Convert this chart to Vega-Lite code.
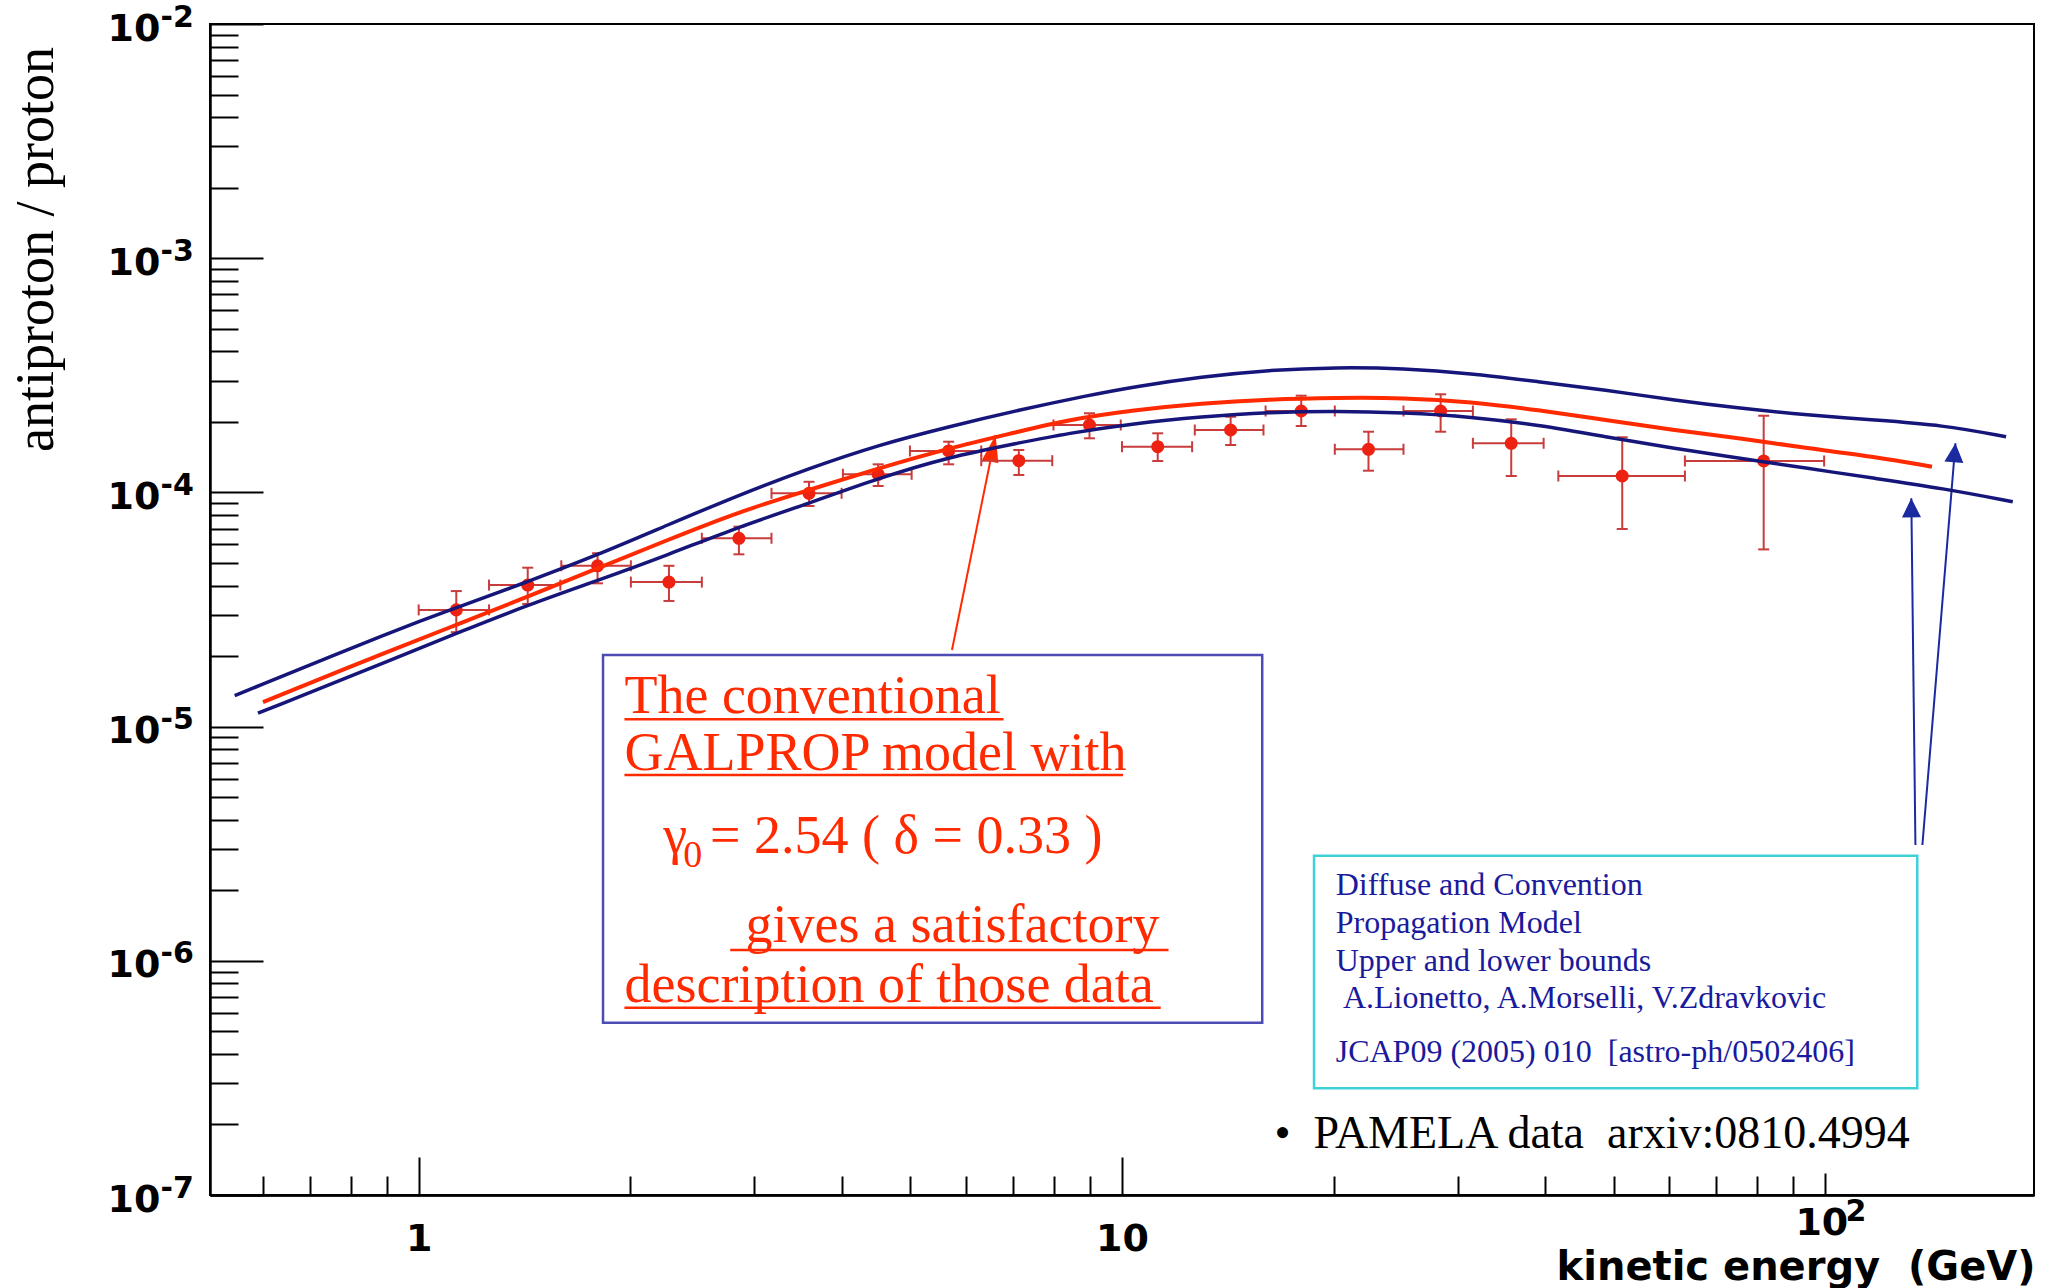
{
  "$schema": "https://vega.github.io/schema/vega-lite/v6.json",
  "autosize": {"type": "none"},
  "padding": {"left": 210, "top": 24, "right": 22, "bottom": 93},
  "width": 1824,
  "height": 1171,
  "background": "#ffffff",
  "config": {"view": {"stroke": "#000000", "strokeWidth": 2}},
  "resolve": {"axis": {"x": "independent", "y": "independent"}},
  "datasets": {
    "pamela": [
      {"E": 1.131, "Elo": 1.0, "Ehi": 1.259, "R": 3.15e-5, "Rlo": 2.53e-5, "Rhi": 3.79e-5},
      {"E": 1.429, "Elo": 1.259, "Ehi": 1.59, "R": 4.02e-5, "Rlo": 3.34e-5, "Rhi": 4.77e-5},
      {"E": 1.796, "Elo": 1.595, "Ehi": 2.003, "R": 4.86e-5, "Rlo": 4.09e-5, "Rhi": 5.5e-5},
      {"E": 2.269, "Elo": 2.003, "Ehi": 2.527, "R": 4.14e-5, "Rlo": 3.44e-5, "Rhi": 4.86e-5},
      {"E": 2.853, "Elo": 2.527, "Ehi": 3.174, "R": 6.37e-5, "Rlo": 5.44e-5, "Rhi": 7.14e-5},
      {"E": 3.589, "Elo": 3.174, "Ehi": 3.993, "R": 9.91e-5, "Rlo": 8.75e-5, "Rhi": 1.11e-4},
      {"E": 4.501, "Elo": 4.01, "Ehi": 5.022, "R": 1.195e-4, "Rlo": 1.065e-4, "Rhi": 1.318e-4},
      {"E": 5.669, "Elo": 4.994, "Ehi": 6.308, "R": 1.503e-4, "Rlo": 1.318e-4, "Rhi": 1.646e-4},
      {"E": 7.133, "Elo": 6.308, "Ehi": 7.958, "R": 1.366e-4, "Rlo": 1.187e-4, "Rhi": 1.517e-4},
      {"E": 8.99, "Elo": 7.99, "Ehi": 9.958, "R": 1.94e-4, "Rlo": 1.702e-4, "Rhi": 2.177e-4},
      {"E": 11.24, "Elo": 10.0, "Ehi": 12.58, "R": 1.567e-4, "Rlo": 1.362e-4, "Rhi": 1.788e-4},
      {"E": 14.27, "Elo": 12.69, "Ehi": 15.89, "R": 1.847e-4, "Rlo": 1.593e-4, "Rhi": 2.104e-4},
      {"E": 17.98, "Elo": 16.0, "Ehi": 20.07, "R": 2.226e-4, "Rlo": 1.921e-4, "Rhi": 2.588e-4},
      {"E": 22.41, "Elo": 20.07, "Ehi": 25.13, "R": 1.528e-4, "Rlo": 1.238e-4, "Rhi": 1.816e-4},
      {"E": 28.38, "Elo": 25.13, "Ehi": 31.54, "R": 2.226e-4, "Rlo": 1.816e-4, "Rhi": 2.624e-4},
      {"E": 35.76, "Elo": 31.54, "Ehi": 39.76, "R": 1.621e-4, "Rlo": 1.175e-4, "Rhi": 2.051e-4},
      {"E": 51.43, "Elo": 41.72, "Ehi": 63.14, "R": 1.175e-4, "Rlo": 6.98e-5, "Rhi": 1.719e-4},
      {"E": 81.72, "Elo": 63.14, "Ehi": 99.6, "R": 1.362e-4, "Rlo": 5.71e-5, "Rhi": 2.125e-4}
    ],
    "curves": [
      {"model": "upper", "E": 0.5475, "R": 1.356e-5},
      {"model": "upper", "E": 0.9397, "R": 2.629e-5},
      {"model": "upper", "E": 1.1313, "R": 3.219e-5},
      {"model": "upper", "E": 1.429, "R": 4.155e-5},
      {"model": "upper", "E": 1.7958, "R": 5.403e-5},
      {"model": "upper", "E": 2.2585, "R": 7.257e-5},
      {"model": "upper", "E": 2.8531, "R": 9.747e-5},
      {"model": "upper", "E": 3.5892, "R": 1.267e-4},
      {"model": "upper", "E": 4.5004, "R": 1.594e-4},
      {"model": "upper", "E": 5.669, "R": 1.908e-4},
      {"model": "upper", "E": 7.1319, "R": 2.247e-4},
      {"model": "upper", "E": 9.0075, "R": 2.605e-4},
      {"model": "upper", "E": 10.407, "R": 2.827e-4},
      {"model": "upper", "E": 12.972, "R": 3.119e-4},
      {"model": "upper", "E": 16.175, "R": 3.331e-4},
      {"model": "upper", "E": 20.159, "R": 3.421e-4},
      {"model": "upper", "E": 25.126, "R": 3.387e-4},
      {"model": "upper", "E": 31.333, "R": 3.224e-4},
      {"model": "upper", "E": 39.054, "R": 2.97e-4},
      {"model": "upper", "E": 48.689, "R": 2.737e-4},
      {"model": "upper", "E": 60.688, "R": 2.48e-4},
      {"model": "upper", "E": 75.652, "R": 2.286e-4},
      {"model": "upper", "E": 94.32, "R": 2.14e-4},
      {"model": "upper", "E": 117.56, "R": 2.037e-4},
      {"model": "upper", "E": 146.6, "R": 1.94e-4},
      {"model": "upper", "E": 180.7, "R": 1.729e-4},
      {"model": "lower", "E": 0.5909, "R": 1.141e-5},
      {"model": "lower", "E": 0.9397, "R": 1.989e-5},
      {"model": "lower", "E": 1.1313, "R": 2.503e-5},
      {"model": "lower", "E": 1.429, "R": 3.305e-5},
      {"model": "lower", "E": 1.7958, "R": 4.205e-5},
      {"model": "lower", "E": 2.2585, "R": 5.403e-5},
      {"model": "lower", "E": 2.8531, "R": 7.137e-5},
      {"model": "lower", "E": 3.5892, "R": 8.985e-5},
      {"model": "lower", "E": 4.5004, "R": 1.148e-4},
      {"model": "lower", "E": 5.669, "R": 1.416e-4},
      {"model": "lower", "E": 7.1319, "R": 1.625e-4},
      {"model": "lower", "E": 8.3484, "R": 1.785e-4},
      {"model": "lower", "E": 10.407, "R": 1.972e-4},
      {"model": "lower", "E": 12.972, "R": 2.104e-4},
      {"model": "lower", "E": 16.175, "R": 2.198e-4},
      {"model": "lower", "E": 20.159, "R": 2.226e-4},
      {"model": "lower", "E": 25.126, "R": 2.189e-4},
      {"model": "lower", "E": 31.333, "R": 2.104e-4},
      {"model": "lower", "E": 39.054, "R": 1.94e-4},
      {"model": "lower", "E": 48.689, "R": 1.729e-4},
      {"model": "lower", "E": 60.688, "R": 1.543e-4},
      {"model": "lower", "E": 75.652, "R": 1.398e-4},
      {"model": "lower", "E": 94.32, "R": 1.267e-4},
      {"model": "lower", "E": 117.56, "R": 1.148e-4},
      {"model": "lower", "E": 146.6, "R": 1.041e-4},
      {"model": "lower", "E": 184.7, "R": 9.128e-5},
      {"model": "model", "E": 0.6006, "R": 1.271e-5},
      {"model": "model", "E": 0.9397, "R": 2.194e-5},
      {"model": "model", "E": 1.1313, "R": 2.715e-5},
      {"model": "model", "E": 1.429, "R": 3.587e-5},
      {"model": "model", "E": 1.7958, "R": 4.742e-5},
      {"model": "model", "E": 2.2585, "R": 6.262e-5},
      {"model": "model", "E": 2.8531, "R": 8.271e-5},
      {"model": "model", "E": 3.5892, "R": 1.024e-4},
      {"model": "model", "E": 4.5004, "R": 1.267e-4},
      {"model": "model", "E": 5.669, "R": 1.543e-4},
      {"model": "model", "E": 7.1319, "R": 1.816e-4},
      {"model": "model", "E": 8.3484, "R": 2.037e-4},
      {"model": "model", "E": 10.407, "R": 2.247e-4},
      {"model": "model", "E": 12.972, "R": 2.4e-4},
      {"model": "model", "E": 16.175, "R": 2.497e-4},
      {"model": "model", "E": 20.159, "R": 2.537e-4},
      {"model": "model", "E": 25.126, "R": 2.537e-4},
      {"model": "model", "E": 31.333, "R": 2.439e-4},
      {"model": "model", "E": 39.054, "R": 2.247e-4},
      {"model": "model", "E": 48.689, "R": 2.037e-4},
      {"model": "model", "E": 60.688, "R": 1.847e-4},
      {"model": "model", "E": 75.652, "R": 1.702e-4},
      {"model": "model", "E": 94.32, "R": 1.543e-4},
      {"model": "model", "E": 117.56, "R": 1.421e-4},
      {"model": "model", "E": 141.8, "R": 1.288e-4}
    ],
    "boxes": [
      {"box": "red", "E": 1.8285, "E2": 15.825, "R": 2.021e-5, "R2": 5.441e-7},
      {"box": "cyan", "E": 18.75, "E2": 135.1, "R": 2.812e-6, "R2": 2.855e-7}
    ],
    "underlines": [
      {"E": 1.9613, "E2": 6.785, "R": 1.075e-5},
      {"E": 1.9613, "E2": 10.033, "R": 6.214e-6},
      {"E": 2.773, "E2": 11.644, "R": 1.112e-6},
      {"E": 1.9613, "E2": 11.35, "R": 6.305e-7}
    ],
    "arrows": [
      {"arrow": "red", "E": 5.731, "R": 2.124e-5, "E2": 6.611, "R2": 1.758e-4},
      {"arrow": "blueL", "E": 134.3, "R": 3.123e-6, "E2": 132.5, "R2": 9.436e-5},
      {"arrow": "blueR", "E": 137.4, "R": 3.123e-6, "E2": 153.1, "R2": 1.621e-4}
    ],
    "notes": [
      {"note": "red", "E": 1.9613, "R": 1.147e-5, "text": "The conventional"},
      {"note": "red", "E": 1.9613, "R": 6.525e-6, "text": "GALPROP model with"},
      {"note": "red", "E": 2.2277, "R": 2.877e-6, "text": "γ"},
      {"note": "red", "E": 2.5962, "R": 2.877e-6, "text": "= 2.54 ( δ = 0.33 )"},
      {"note": "red", "E": 2.9162, "R": 1.206e-6, "text": "gives a satisfactory"},
      {"note": "red", "E": 1.9613, "R": 6.688e-7, "text": "description of those data"},
      {"note": "redsub", "E": 2.3785, "R": 2.522e-6, "text": "0"},
      {"note": "blue", "E": 20.13, "R": 1.91e-6, "text": "Diffuse and Convention"},
      {"note": "blue", "E": 20.13, "R": 1.318e-6, "text": "Propagation Model"},
      {"note": "blue", "E": 20.13, "R": 9.073e-7, "text": "Upper and lower bounds"},
      {"note": "blue", "E": 20.61, "R": 6.268e-7, "text": "A.Lionetto, A.Morselli, V.Zdravkovic"},
      {"note": "blue", "E": 20.13, "R": 3.709e-7, "text": "JCAP09 (2005) 010\u00a0\u00a0[astro-ph/0502406]"},
      {"note": "black", "E": 16.47, "R": 1.587e-7, "text": "•\u00a0\u00a0PAMELA data\u00a0\u00a0arxiv:0810.4994"}
    ]
  },
  "layer": [
    {
      "data": {"name": "boxes"},
      "transform": [{"filter": "datum.box == 'red'"}],
      "mark": {"type": "rect", "fill": null, "fillOpacity": 0, "stroke": "#4c4cb4", "strokeWidth": 2.5},
      "encoding": {
        "x": {"field": "E", "type": "quantitative", "scale": {"type": "log", "domain": [0.505, 198], "nice": false}, "axis": null},
        "x2": {"field": "E2"},
        "y": {"field": "R", "type": "quantitative", "scale": {"type": "log", "domain": [1e-7, 0.01], "nice": false}, "axis": null},
        "y2": {"field": "R2"}
      }
    },
    {
      "data": {"name": "boxes"},
      "transform": [{"filter": "datum.box == 'cyan'"}],
      "mark": {"type": "rect", "fill": null, "fillOpacity": 0, "stroke": "#3ed2d8", "strokeWidth": 2.5},
      "encoding": {
        "x": {"field": "E", "type": "quantitative", "scale": {"type": "log", "domain": [0.505, 198], "nice": false}, "axis": null},
        "x2": {"field": "E2"},
        "y": {"field": "R", "type": "quantitative", "scale": {"type": "log", "domain": [1e-7, 0.01], "nice": false}, "axis": null},
        "y2": {"field": "R2"}
      }
    },
    {
      "data": {"name": "underlines"},
      "mark": {"type": "rule", "color": "#ff2a00", "strokeWidth": 2.5},
      "encoding": {
        "x": {"field": "E", "type": "quantitative", "scale": {"type": "log", "domain": [0.505, 198], "nice": false}, "axis": null},
        "x2": {"field": "E2"},
        "y": {"field": "R", "type": "quantitative", "scale": {"type": "log", "domain": [1e-7, 0.01], "nice": false}, "axis": null}
      }
    },
    {
      "data": {"name": "arrows"},
      "transform": [{"filter": "datum.arrow == 'red'"}],
      "mark": {"type": "rule", "color": "#ff2a00", "strokeWidth": 2},
      "encoding": {
        "x": {"field": "E", "type": "quantitative", "scale": {"type": "log", "domain": [0.505, 198], "nice": false}, "axis": null},
        "x2": {"field": "E2"},
        "y": {"field": "R", "type": "quantitative", "scale": {"type": "log", "domain": [1e-7, 0.01], "nice": false}, "axis": null},
        "y2": {"field": "R2"}
      }
    },
    {
      "data": {"name": "arrows"},
      "transform": [{"filter": "datum.arrow != 'red'"}],
      "mark": {"type": "rule", "color": "#1c2aa0", "strokeWidth": 2},
      "encoding": {
        "x": {"field": "E", "type": "quantitative", "scale": {"type": "log", "domain": [0.505, 198], "nice": false}, "axis": null},
        "x2": {"field": "E2"},
        "y": {"field": "R", "type": "quantitative", "scale": {"type": "log", "domain": [1e-7, 0.01], "nice": false}, "axis": null},
        "y2": {"field": "R2"}
      }
    },
    {
      "data": {"name": "arrows"},
      "transform": [{"filter": "datum.arrow == 'red'"}],
      "mark": {"type": "point", "shape": "M0,0L-0.4,1.3L0.4,1.3Z", "filled": true, "fill": "#ff2a00", "opacity": 1, "strokeWidth": 0, "size": 1730, "angle": 11.5},
      "encoding": {
        "x": {"field": "E2", "type": "quantitative", "scale": {"type": "log", "domain": [0.505, 198], "nice": false}, "axis": null},
        "y": {"field": "R2", "type": "quantitative", "scale": {"type": "log", "domain": [1e-7, 0.01], "nice": false}, "axis": null}
      }
    },
    {
      "data": {"name": "arrows"},
      "transform": [{"filter": "datum.arrow == 'blueL'"}],
      "mark": {"type": "point", "shape": "M0,0L-0.5,1L0.5,1Z", "filled": true, "fill": "#1c2aa0", "opacity": 1, "strokeWidth": 0, "size": 1444, "angle": -0.6},
      "encoding": {
        "x": {"field": "E2", "type": "quantitative", "scale": {"type": "log", "domain": [0.505, 198], "nice": false}, "axis": null},
        "y": {"field": "R2", "type": "quantitative", "scale": {"type": "log", "domain": [1e-7, 0.01], "nice": false}, "axis": null}
      }
    },
    {
      "data": {"name": "arrows"},
      "transform": [{"filter": "datum.arrow == 'blueR'"}],
      "mark": {"type": "point", "shape": "M0,0L-0.5,1L0.5,1Z", "filled": true, "fill": "#1c2aa0", "opacity": 1, "strokeWidth": 0, "size": 1444, "angle": 4.7},
      "encoding": {
        "x": {"field": "E2", "type": "quantitative", "scale": {"type": "log", "domain": [0.505, 198], "nice": false}, "axis": null},
        "y": {"field": "R2", "type": "quantitative", "scale": {"type": "log", "domain": [1e-7, 0.01], "nice": false}, "axis": null}
      }
    },
    {
      "data": {"name": "notes"},
      "transform": [{"filter": "datum.note == 'red'"}],
      "mark": {"type": "text", "font": "Liberation Serif", "fontSize": 54, "color": "#ff2a00", "align": "left", "baseline": "alphabetic"},
      "encoding": {
        "x": {"field": "E", "type": "quantitative", "scale": {"type": "log", "domain": [0.505, 198], "nice": false}, "axis": null},
        "y": {"field": "R", "type": "quantitative", "scale": {"type": "log", "domain": [1e-7, 0.01], "nice": false}, "axis": null},
        "text": {"field": "text"}
      }
    },
    {
      "data": {"name": "notes"},
      "transform": [{"filter": "datum.note == 'redsub'"}],
      "mark": {"type": "text", "font": "Liberation Serif", "fontSize": 38, "color": "#ff2a00", "align": "left", "baseline": "alphabetic"},
      "encoding": {
        "x": {"field": "E", "type": "quantitative", "scale": {"type": "log", "domain": [0.505, 198], "nice": false}, "axis": null},
        "y": {"field": "R", "type": "quantitative", "scale": {"type": "log", "domain": [1e-7, 0.01], "nice": false}, "axis": null},
        "text": {"field": "text"}
      }
    },
    {
      "data": {"name": "notes"},
      "transform": [{"filter": "datum.note == 'blue'"}],
      "mark": {"type": "text", "font": "Liberation Serif", "fontSize": 32, "color": "#1a1a9c", "align": "left", "baseline": "alphabetic"},
      "encoding": {
        "x": {"field": "E", "type": "quantitative", "scale": {"type": "log", "domain": [0.505, 198], "nice": false}, "axis": null},
        "y": {"field": "R", "type": "quantitative", "scale": {"type": "log", "domain": [1e-7, 0.01], "nice": false}, "axis": null},
        "text": {"field": "text"}
      }
    },
    {
      "data": {"name": "notes"},
      "transform": [{"filter": "datum.note == 'black'"}],
      "mark": {"type": "text", "font": "Liberation Serif", "fontSize": 46, "color": "#000000", "align": "left", "baseline": "alphabetic"},
      "encoding": {
        "x": {"field": "E", "type": "quantitative", "scale": {"type": "log", "domain": [0.505, 198], "nice": false}, "axis": null},
        "y": {"field": "R", "type": "quantitative", "scale": {"type": "log", "domain": [1e-7, 0.01], "nice": false}, "axis": null},
        "text": {"field": "text"}
      }
    },
    {
      "data": {"name": "pamela"},
      "mark": {"type": "rule", "color": "#c83c3c", "strokeWidth": 2},
      "encoding": {
        "x": {"field": "Elo", "type": "quantitative", "scale": {"type": "log", "domain": [0.505, 198], "nice": false},
          "axis": {"orient": "bottom", "values": [100], "labelExpr": "'2'",
            "labelFont": "DejaVu Sans", "labelFontWeight": "bold", "labelFontSize": 30, "labelColor": "#000000",
            "labelBaseline": "top", "labelAlign": "center", "labelOffset": 30, "labelOverlap": false, "labelFlush": false, "labelBound": false,
            "labelPadding": 1, "ticks": false, "tickSize": 0, "domain": false, "grid": false, "title": null}},
        "x2": {"field": "Ehi"},
        "y": {"field": "R", "type": "quantitative", "scale": {"type": "log", "domain": [1e-7, 0.01], "nice": false}, "axis": null}
      }
    },
    {
      "data": {"name": "pamela"},
      "mark": {"type": "rule", "color": "#c83c3c", "strokeWidth": 2},
      "encoding": {
        "x": {"field": "E", "type": "quantitative", "scale": {"type": "log", "domain": [0.505, 198], "nice": false}, "axis": null},
        "y": {"field": "Rlo", "type": "quantitative", "scale": {"type": "log", "domain": [1e-7, 0.01], "nice": false}, "axis": null},
        "y2": {"field": "Rhi"}
      }
    },
    {
      "data": {"name": "pamela"},
      "transform": [{"fold": ["Elo", "Ehi"], "as": ["side", "Ecap"]}],
      "mark": {"type": "tick", "orient": "vertical", "color": "#c83c3c", "size": 11, "thickness": 2, "opacity": 1},
      "encoding": {
        "x": {"field": "Ecap", "type": "quantitative", "scale": {"type": "log", "domain": [0.505, 198], "nice": false}, "axis": null},
        "y": {"field": "R", "type": "quantitative", "scale": {"type": "log", "domain": [1e-7, 0.01], "nice": false}, "axis": null}
      }
    },
    {
      "data": {"name": "pamela"},
      "transform": [{"fold": ["Rlo", "Rhi"], "as": ["side", "Rcap"]}],
      "mark": {"type": "tick", "orient": "horizontal", "color": "#c83c3c", "size": 11, "thickness": 2, "opacity": 1},
      "encoding": {
        "x": {"field": "E", "type": "quantitative", "scale": {"type": "log", "domain": [0.505, 198], "nice": false}, "axis": null},
        "y": {"field": "Rcap", "type": "quantitative", "scale": {"type": "log", "domain": [1e-7, 0.01], "nice": false}, "axis": null}
      }
    },
    {
      "data": {"name": "pamela"},
      "mark": {"type": "circle", "color": "#ee2211", "opacity": 1, "size": 170},
      "encoding": {
        "x": {"field": "E", "type": "quantitative", "scale": {"type": "log", "domain": [0.505, 198], "nice": false},
          "axis": {"orient": "bottom", "values": [100], "labelExpr": "'10'",
            "labelFont": "DejaVu Sans", "labelFontWeight": "bold", "labelFontSize": 38, "labelColor": "#000000",
            "labelBaseline": "top", "labelAlign": "center", "labelOffset": -4, "labelOverlap": false, "labelFlush": false, "labelBound": false,
            "labelPadding": 31, "tickSize": -22, "tickColor": "#000000", "tickWidth": 2,
            "domainColor": "#000000", "domainWidth": 2, "grid": false, "title": null}},
        "y": {"field": "R", "type": "quantitative", "scale": {"type": "log", "domain": [1e-7, 0.01], "nice": false},
          "axis": {"orient": "left", "values": [1e-7, 1e-6, 1e-5, 1e-4, 0.001, 0.01],
            "labelExpr": "'-' + (-round(log(datum.value)/LN10))",
            "labelFont": "DejaVu Sans", "labelFontWeight": "bold", "labelFontSize": 30, "labelColor": "#000000",
            "labelAlign": "left", "labelBaseline": "middle", "labelOffset": -7,
            "labelOverlap": false, "labelFlush": false, "labelBound": false,
            "labelPadding": 50, "ticks": false, "tickSize": 0, "domain": false, "grid": false, "title": null}}
      }
    },
    {
      "data": {"name": "curves"},
      "transform": [{"filter": "datum.model != 'model'"}],
      "mark": {"type": "line", "color": "#16167a", "strokeWidth": 3.5, "interpolate": "basis"},
      "encoding": {
        "x": {"field": "E", "type": "quantitative", "scale": {"type": "log", "domain": [0.505, 198], "nice": false},
          "axis": {"orient": "bottom", "values": [0.6, 0.7, 0.8, 0.9, 2, 3, 4, 5, 6, 7, 8, 9, 20, 30, 40, 50, 60, 70, 80, 90],
            "labels": false, "tickSize": -19, "tickColor": "#000000", "tickWidth": 2,
            "domainColor": "#000000", "domainWidth": 2, "grid": false, "title": null}},
        "y": {"field": "R", "type": "quantitative", "scale": {"type": "log", "domain": [1e-7, 0.01], "nice": false},
          "axis": {"orient": "left",
            "values": [2e-7, 3e-7, 4e-7, 5e-7, 6e-7, 7e-7, 8e-7, 9e-7, 2e-6, 3e-6, 4e-6, 5e-6, 6e-6, 7e-6, 8e-6, 9e-6, 2e-5, 3e-5, 4e-5, 5e-5, 6e-5, 7e-5, 8e-5, 9e-5, 2e-4, 3e-4, 4e-4, 5e-4, 6e-4, 7e-4, 8e-4, 9e-4, 0.002, 0.003, 0.004, 0.005, 0.006, 0.007, 0.008, 0.009],
            "labels": false, "tickSize": -28, "tickColor": "#000000", "tickWidth": 2,
            "domainColor": "#000000", "domainWidth": 2, "grid": false, "title": null}},
        "detail": {"field": "model"}
      }
    },
    {
      "data": {"name": "curves"},
      "transform": [{"filter": "datum.model == 'model'"}],
      "mark": {"type": "line", "color": "#ff2a00", "strokeWidth": 4, "interpolate": "basis"},
      "encoding": {
        "x": {"field": "E", "type": "quantitative", "scale": {"type": "log", "domain": [0.505, 198], "nice": false},
          "axis": {"orient": "bottom", "values": [1, 10], "labelExpr": "datum.value == 1 ? '1' : '10'",
            "labelFont": "DejaVu Sans", "labelFontWeight": "bold", "labelFontSize": 38, "labelColor": "#000000",
            "labelBaseline": "top", "labelAlign": "center", "labelOverlap": false, "labelFlush": false, "labelBound": false,
            "labelPadding": 63, "tickSize": -38, "tickColor": "#000000", "tickWidth": 2,
            "domainColor": "#000000", "domainWidth": 2, "grid": false,
            "title": "kinetic energy\u00a0\u00a0(GeV)",
            "titleFont": "DejaVu Sans", "titleFontWeight": "bold", "titleFontSize": 40, "titleColor": "#000000",
            "titleX": 1825, "titleY": 84, "titleAlign": "right", "titleBaseline": "alphabetic", "titleAnchor": "end"}},
        "y": {"field": "R", "type": "quantitative", "scale": {"type": "log", "domain": [1e-7, 0.01], "nice": false},
          "axis": {"orient": "left", "values": [1e-7, 1e-6, 1e-5, 1e-4, 0.001, 0.01],
            "labelExpr": "'10'",
            "labelFont": "DejaVu Sans", "labelFontWeight": "bold", "labelFontSize": 38, "labelColor": "#000000",
            "labelAlign": "right", "labelBaseline": "middle", "labelOffset": 5,
            "labelOverlap": false, "labelFlush": false, "labelBound": false,
            "labelPadding": 103, "tickSize": -53, "tickColor": "#000000", "tickWidth": 2,
            "domainColor": "#000000", "domainWidth": 2, "grid": false,
            "title": "antiproton / proton",
            "titleFont": "Liberation Serif", "titleFontWeight": "normal", "titleFontSize": 54, "titleColor": "#000000",
            "titleX": -158, "titleY": 225, "titleAlign": "center", "titleBaseline": "alphabetic", "titleAngle": 270}}
      }
    }
  ]
}
